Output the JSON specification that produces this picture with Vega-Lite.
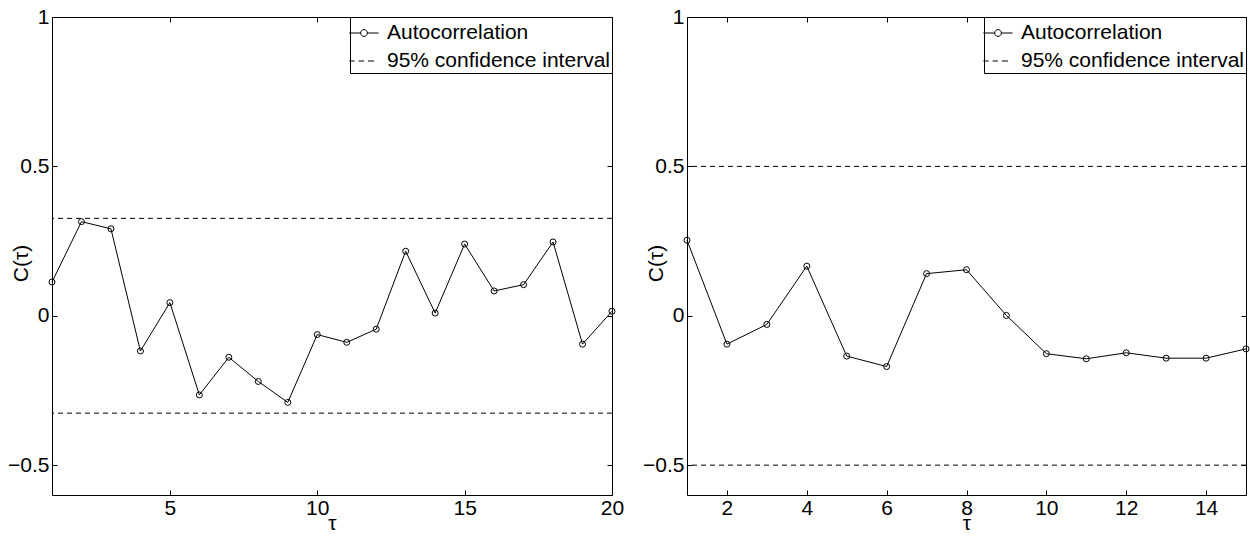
{
  "$schema": "https://vega.github.io/schema/vega-lite/v6.json",
  "padding": {"left": 7, "top": 5, "right": 0, "bottom": 0},
  "background": "white",
  "bounds": "flush",
  "spacing": 75,
  "datasets": {
    "left": [
      {"tau": 1, "c": 0.113, "series": "Autocorrelation"},
      {"tau": 2, "c": 0.315, "series": "Autocorrelation"},
      {"tau": 3, "c": 0.291, "series": "Autocorrelation"},
      {"tau": 4, "c": -0.118, "series": "Autocorrelation"},
      {"tau": 5, "c": 0.044, "series": "Autocorrelation"},
      {"tau": 6, "c": -0.265, "series": "Autocorrelation"},
      {"tau": 7, "c": -0.139, "series": "Autocorrelation"},
      {"tau": 8, "c": -0.22, "series": "Autocorrelation"},
      {"tau": 9, "c": -0.29, "series": "Autocorrelation"},
      {"tau": 10, "c": -0.063, "series": "Autocorrelation"},
      {"tau": 11, "c": -0.089, "series": "Autocorrelation"},
      {"tau": 12, "c": -0.045, "series": "Autocorrelation"},
      {"tau": 13, "c": 0.216, "series": "Autocorrelation"},
      {"tau": 14, "c": 0.009, "series": "Autocorrelation"},
      {"tau": 15, "c": 0.24, "series": "Autocorrelation"},
      {"tau": 16, "c": 0.083, "series": "Autocorrelation"},
      {"tau": 17, "c": 0.104, "series": "Autocorrelation"},
      {"tau": 18, "c": 0.247, "series": "Autocorrelation"},
      {"tau": 19, "c": -0.095, "series": "Autocorrelation"},
      {"tau": 20, "c": 0.015, "series": "Autocorrelation"},
      {"c": 0.326, "series": "95% confidence interval"},
      {"c": -0.326, "series": "95% confidence interval"}
    ],
    "right": [
      {"tau": 1, "c": 0.253, "series": "Autocorrelation"},
      {"tau": 2, "c": -0.095, "series": "Autocorrelation"},
      {"tau": 3, "c": -0.029, "series": "Autocorrelation"},
      {"tau": 4, "c": 0.166, "series": "Autocorrelation"},
      {"tau": 5, "c": -0.135, "series": "Autocorrelation"},
      {"tau": 6, "c": -0.17, "series": "Autocorrelation"},
      {"tau": 7, "c": 0.141, "series": "Autocorrelation"},
      {"tau": 8, "c": 0.154, "series": "Autocorrelation"},
      {"tau": 9, "c": 0.001, "series": "Autocorrelation"},
      {"tau": 10, "c": -0.127, "series": "Autocorrelation"},
      {"tau": 11, "c": -0.144, "series": "Autocorrelation"},
      {"tau": 12, "c": -0.124, "series": "Autocorrelation"},
      {"tau": 13, "c": -0.142, "series": "Autocorrelation"},
      {"tau": 14, "c": -0.142, "series": "Autocorrelation"},
      {"tau": 15, "c": -0.111, "series": "Autocorrelation"},
      {"c": 0.5, "series": "95% confidence interval"},
      {"c": -0.5, "series": "95% confidence interval"}
    ]
  },
  "hconcat": [
    {
      "width": 560,
      "height": 478,
      "data": {"name": "left"},
      "layer": [
        {
          "transform": [{"filter": "datum.series === 'Autocorrelation'"}],
          "mark": {"type": "line", "color": "black", "strokeWidth": 1},
          "encoding": {
            "x": {"field": "tau", "type": "quantitative", "scale": {"domain": [1, 20], "nice": false, "zero": false},
                  "axis": {"orient": "bottom", "values": [5, 10, 15, 20], "title": "τ", "titleBaseline": "alphabetic", "titleY": 34, "labelPadding": 7}},
            "y": {"field": "c", "type": "quantitative", "scale": {"domain": [-0.6, 1], "nice": false, "zero": false},
                  "axis": {"orient": "left", "values": [-0.5, 0, 0.5, 1], "format": "~g", "title": "C(τ)", "titleX": -31, "titleY": 246, "titleBaseline": "middle", "labelPadding": 8}}
          }
        },
        {
          "transform": [{"filter": "datum.series === 'Autocorrelation'"}],
          "mark": {"type": "point", "shape": "circle", "filled": false, "color": "black", "size": 36, "strokeWidth": 1, "opacity": 1},
          "encoding": {
            "x": {"field": "tau", "type": "quantitative", "scale": {"domain": [1, 20], "nice": false, "zero": false},
                  "axis": {"orient": "top", "values": [5, 10, 15, 20], "labels": false, "title": null}},
            "y": {"field": "c", "type": "quantitative", "scale": {"domain": [-0.6, 1], "nice": false, "zero": false},
                  "axis": {"orient": "right", "values": [-0.5, 0, 0.5, 1], "labels": false, "title": null}}
          }
        },
        {
          "transform": [{"filter": "datum.series === '95% confidence interval'"}],
          "mark": {"type": "rule", "color": "black", "strokeWidth": 1, "strokeDash": [5, 4]},
          "encoding": {
            "y": {"field": "c", "type": "quantitative", "scale": {"domain": [-0.6, 1], "nice": false, "zero": false}, "axis": null}
          }
        },
        {
          "mark": {"type": "point", "filled": false, "color": "black", "opacity": 0},
          "encoding": {
            "shape": {"field": "series", "type": "nominal",
                      "scale": {"domain": ["Autocorrelation", "95% confidence interval"],
                                "range": ["M-1.237,0L-0.398,0M0.102,0L0.933,0M0.102,0A0.25,0.25,0,1,1,-0.398,0A0.25,0.25,0,1,1,0.102,0",
                                          "M-1.237,0L-0.844,0M-0.548,0L-0.152,0M0.144,0L0.588,0"]},
                      "legend": {"orient": "top-right", "title": null}}
          }
        }
      ],
      "resolve": {"axis": {"x": "independent", "y": "independent"}}
    },
    {
      "width": 559,
      "height": 478,
      "data": {"name": "right"},
      "layer": [
        {
          "transform": [{"filter": "datum.series === 'Autocorrelation'"}],
          "mark": {"type": "line", "color": "black", "strokeWidth": 1},
          "encoding": {
            "x": {"field": "tau", "type": "quantitative", "scale": {"domain": [1, 15], "nice": false, "zero": false},
                  "axis": {"orient": "bottom", "values": [2, 4, 6, 8, 10, 12, 14], "title": "τ", "titleBaseline": "alphabetic", "titleY": 34, "labelPadding": 7}},
            "y": {"field": "c", "type": "quantitative", "scale": {"domain": [-0.6, 1], "nice": false, "zero": false},
                  "axis": {"orient": "left", "values": [-0.5, 0, 0.5, 1], "format": "~g", "title": "C(τ)", "titleX": -31, "titleY": 246, "titleBaseline": "middle", "labelPadding": 8}}
          }
        },
        {
          "transform": [{"filter": "datum.series === 'Autocorrelation'"}],
          "mark": {"type": "point", "shape": "circle", "filled": false, "color": "black", "size": 36, "strokeWidth": 1, "opacity": 1},
          "encoding": {
            "x": {"field": "tau", "type": "quantitative", "scale": {"domain": [1, 15], "nice": false, "zero": false},
                  "axis": {"orient": "top", "values": [2, 4, 6, 8, 10, 12, 14], "labels": false, "title": null}},
            "y": {"field": "c", "type": "quantitative", "scale": {"domain": [-0.6, 1], "nice": false, "zero": false},
                  "axis": {"orient": "right", "values": [-0.5, 0, 0.5, 1], "labels": false, "title": null}}
          }
        },
        {
          "transform": [{"filter": "datum.series === '95% confidence interval'"}],
          "mark": {"type": "rule", "color": "black", "strokeWidth": 1, "strokeDash": [5, 4]},
          "encoding": {
            "y": {"field": "c", "type": "quantitative", "scale": {"domain": [-0.6, 1], "nice": false, "zero": false}, "axis": null}
          }
        },
        {
          "mark": {"type": "point", "filled": false, "color": "black", "opacity": 0},
          "encoding": {
            "shape": {"field": "series", "type": "nominal",
                      "scale": {"domain": ["Autocorrelation", "95% confidence interval"],
                                "range": ["M-1.237,0L-0.398,0M0.102,0L0.933,0M0.102,0A0.25,0.25,0,1,1,-0.398,0A0.25,0.25,0,1,1,0.102,0",
                                          "M-1.237,0L-0.844,0M-0.548,0L-0.152,0M0.144,0L0.588,0"]},
                      "legend": {"orient": "top-right", "title": null}}
          }
        }
      ],
      "resolve": {"axis": {"x": "independent", "y": "independent"}}
    }
  ],
  "resolve": {"scale": {"shape": "independent"}, "legend": {"shape": "independent"}},
  "config": {
    "font": "Liberation Sans",
    "view": {"stroke": "black", "strokeWidth": 1},
    "axis": {
      "grid": false,
      "domain": false,
      "ticks": true,
      "tickColor": "black",
      "tickSize": -5,
      "tickWidth": 1,
      "labelFont": "Liberation Sans",
      "labelFontSize": 21,
      "labelColor": "black",
      "labelFlush": false,
      "labelOverlap": false,
      "titleFont": "Liberation Sans",
      "titleFontSize": 21,
      "titleFontWeight": "normal",
      "titleColor": "black"
    },
    "legend": {
      "orient": "top-right",
      "offset": 0,
      "padding": 2,
      "strokeColor": "black",
      "strokeWidth": 1,
      "fillColor": "white",
      "labelFont": "Liberation Sans",
      "labelFontSize": 21,
      "labelColor": "black",
      "labelLimit": 400,
      "labelOffset": 7,
      "rowPadding": 4,
      "symbolSize": 729,
      "symbolStrokeColor": "black",
      "symbolStrokeWidth": 1,
      "symbolOpacity": 1,
      "symbolFillColor": "transparent"
    }
  }
}
